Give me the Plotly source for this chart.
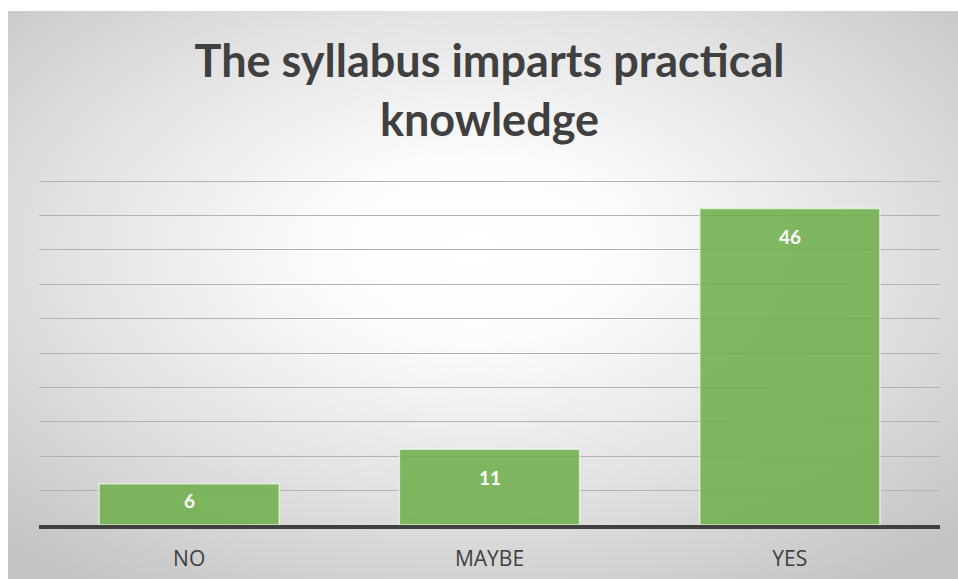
import base64
import plotly.graph_objects as go

categories = ["NO", "MAYBE", "YES"]
values = [6, 11, 46]
title_lines = ["The syllabus imparts practical", "knowledge"]

W, H = 958, 579
M_L, M_R, M_T, M_B = 39, 18, 179, 54
Y_TOP = 50.3
plot_h = H - M_T - M_B
plot_w = W - M_L - M_R
px_per_unit = plot_h / Y_TOP

# radial gradient background (style only)
svg = (
    '<svg xmlns="http://www.w3.org/2000/svg" width="950" height="568" preserveAspectRatio="none">'
    '<defs><radialGradient id="g" cx="0.49" cy="0.42" r="0.72">'
    '<stop offset="0" stop-color="#ffffff"/>'
    '<stop offset="0.22" stop-color="#fcfcfc"/>'
    '<stop offset="0.6" stop-color="#e2e2e2"/>'
    '<stop offset="1" stop-color="#c3c3c3"/>'
    '</radialGradient></defs>'
    '<rect x="0" y="0" width="950" height="568" fill="url(#g)"/>'
    '</svg>'
)
src = "data:image/svg+xml;base64," + base64.b64encode(svg.encode()).decode()

fig = go.Figure()
fig.add_trace(go.Bar(
    x=categories, y=values, width=0.6,
    marker=dict(color="rgba(109,175,74,0.86)",
                line=dict(color="rgba(235,245,230,0.8)", width=1.5)),
    hoverinfo="skip",
))

annotations = []
for c, v in zip(categories, values):
    shift = min(28, v * px_per_unit / 2 - 4)
    annotations.append(dict(
        x=c, y=v, xref="x", yref="y", text=f"<b>{v}</b>", showarrow=False,
        yanchor="middle", yshift=-shift,
        font=dict(family="Lato", size=19, color="white"),
    ))

fig.update_layout(
    width=W, height=H, autosize=False,
    margin=dict(l=M_L, r=M_R, t=M_T, b=M_B, pad=0),
    paper_bgcolor="white", plot_bgcolor="rgba(0,0,0,0)",
    showlegend=False,
    title=dict(text="<b>" + "<br>".join(title_lines) + "</b>",
               x=0.5, xref="paper", xanchor="center",
               y=1 - 77 / H, yref="container", yanchor="top",
               font=dict(family="Lato", size=45, color="#404040")),
    xaxis=dict(showline=True, linecolor="#404040", linewidth=3.5,
               showgrid=False, ticks="", fixedrange=True, automargin=False,
               ticklabelstandoff=12,
               tickfont=dict(family="Open Sans", size=21, color="#404040")),
    yaxis=dict(range=[0, Y_TOP], tick0=0, dtick=5, showgrid=True, gridcolor="#b2b2b2",
               gridwidth=1.2, showticklabels=False, zeroline=False, automargin=False,
               showline=False, ticks="", fixedrange=True),
    annotations=annotations,
    images=[dict(source=src, xref="paper", yref="paper",
                 x=(8 - M_L) / plot_w, y=(H - M_B - 11) / plot_h,
                 sizex=950 / plot_w, sizey=568 / plot_h,
                 xanchor="left", yanchor="top", sizing="stretch",
                 layer="below")],
)

fig.write_html("out.html",
               config={"responsive": False, "displayModeBar": False},
               post_script="document.body.style.margin='0';")
